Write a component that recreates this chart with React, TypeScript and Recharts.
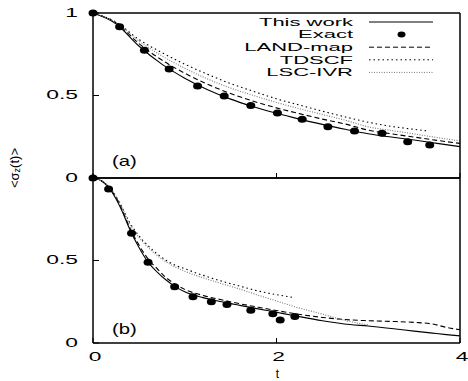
import React from 'react';
import { ComposedChart, Line, Scatter, XAxis, YAxis, Legend } from 'recharts';

// panel (a)
const topT = [0, 0.25, 0.5, 0.75, 1, 1.25, 1.5, 1.75, 2, 2.25, 2.5, 2.75, 3, 3.25, 3.5, 3.75, 4];
const topThisWork = [1, 0.935, 0.8, 0.69, 0.605, 0.535, 0.478, 0.432, 0.392, 0.357, 0.325, 0.295, 0.268, 0.248, 0.23, 0.21, 0.19];
const topLandMap = [1, 0.94, 0.815, 0.715, 0.635, 0.568, 0.512, 0.465, 0.425, 0.39, 0.357, 0.327, 0.29, 0.268, 0.248, 0.228, 0.21];
const topLscIvr = [1, 0.94, 0.83, 0.74, 0.665, 0.6, 0.545, 0.5, 0.458, 0.42, 0.385, 0.35, 0.31, 0.288, 0.267, 0.245, 0.225];
const topTdscfT = [0, 0.25, 0.5, 0.75, 1, 1.25, 1.5, 1.75, 2, 2.25, 2.5, 2.75, 3, 3.25, 3.5, 3.65];
const topTdscf = [1, 0.945, 0.84, 0.76, 0.69, 0.628, 0.572, 0.525, 0.48, 0.442, 0.405, 0.37, 0.338, 0.313, 0.295, 0.285];
const topExactT = [0, 0.29, 0.56, 0.83, 1.14, 1.43, 1.72, 2.01, 2.28, 2.56, 2.85, 3.15, 3.43, 3.67];
const topExact = [1, 0.917, 0.774, 0.66, 0.558, 0.497, 0.44, 0.394, 0.356, 0.311, 0.285, 0.271, 0.22, 0.2];

// panel (b)
const botT = [0, 0.1, 0.2, 0.3, 0.4, 0.5, 0.6, 0.7, 0.8, 0.9, 1, 1.2, 1.4, 1.6, 1.8, 2, 2.2, 2.5, 2.8, 3, 3.3, 3.5, 3.7, 3.85, 4];
const botThisWork = [1, 0.98, 0.92, 0.82, 0.69, 0.58, 0.49, 0.43, 0.38, 0.34, 0.31, 0.275, 0.25, 0.228, 0.207, 0.186, 0.165, 0.135, 0.112, 0.103, 0.085, 0.072, 0.06, 0.051, 0.043];
const botLandMap = [1, 0.98, 0.925, 0.83, 0.7, 0.595, 0.51, 0.45, 0.395, 0.355, 0.325, 0.288, 0.262, 0.238, 0.217, 0.197, 0.178, 0.155, 0.14, 0.135, 0.13, 0.125, 0.115, 0.095, 0.08];
const botTdscf = [1, 0.98, 0.93, 0.84, 0.73, 0.65, 0.59, 0.54, 0.5, 0.47, 0.45, 0.41, 0.375, 0.345, 0.315, 0.293, 0.275, null, null, null, null, null, null, null, null];
const botLscIvr = [1, 0.98, 0.93, 0.84, 0.72, 0.64, 0.58, 0.53, 0.49, 0.46, 0.435, 0.395, 0.36, 0.327, 0.29, 0.255, 0.22, 0.175, 0.13, 0.11, null, null, null, null, null];
const botExactT = [0, 0.17, 0.42, 0.6, 0.89, 1.09, 1.29, 1.46, 1.72, 1.96, 2.04, 2.2];
const botExact = [1, 0.933, 0.665, 0.489, 0.341, 0.281, 0.25, 0.234, 0.198, 0.178, 0.139, 0.16];

const xTicks = [0, 2, 4];
const yTicks = [0, 0.5, 1];
const seriesNames = ['This work', 'Exact', 'LAND-map', 'TDSCF', 'LSC-IVR'];

const FONT = '"Liberation Sans", Arial, Helvetica, sans-serif';
const lineStyle: Record<string, { stroke: string; dash?: string }> = {
  'This work': { stroke: '#000' },
  'LAND-map': { stroke: '#000', dash: '5 3' },
  TDSCF: { stroke: '#000', dash: '1.5 3' },
  'LSC-IVR': { stroke: '#777', dash: '1 1.5' },
};

const rows = (ts: number[], vs: (number | null)[]) =>
  ts.map((t, i) => ({ t, v: vs[i] })).filter((r) => r.v !== null);

const Stretch = ({ x, y, anchor, size = 12, sx = 1.9, children }: any) => (
  <text
    transform={`translate(${x},${y}) scale(${sx},1)`}
    textAnchor={anchor}
    dominantBaseline="central"
    fontFamily={FONT}
    fontSize={size}
    fill="#000"
  >
    {children}
  </text>
);

const xBottomTick = (showLabels: boolean) => (props: any) => {
  const { x, y, payload } = props;
  return (
    <g>
      <line x1={x} x2={x} y1={y} y2={y - 5} stroke="#000" />
      {showLabels && (
        <Stretch x={x + 2} y={y + 13.5} anchor="middle" size={13} sx={1.75}>
          {payload.value}
        </Stretch>
      )}
    </g>
  );
};

const xTopTick = (props: any) => {
  const { x, y } = props;
  return <line x1={x} x2={x} y1={y} y2={y + 5} stroke="#000" />;
};

const yLeftTick = (hideOne: boolean) => (props: any) => {
  const { x, y, payload } = props;
  return (
    <g>
      <line x1={x} x2={x + 6} y1={y} y2={y} stroke="#000" />
      {!(hideOne && payload.value === 1) && (
        <Stretch x={x - 15} y={y} anchor="end" size={12} sx={1.9}>
          {payload.value}
        </Stretch>
      )}
    </g>
  );
};

const yRightTick = (props: any) => {
  const { x, y } = props;
  return <line x1={x} x2={x - 6} y1={y} y2={y} stroke="#000" />;
};

const renderLegend = () => (
  <svg width={468} height={85} style={{ display: 'block' }}>
    {seriesNames.map((name, i) => {
      const y = 22 + i * 12.6;
      const st = lineStyle[name];
      return (
        <g key={name}>
          <Stretch x={353} y={y} anchor="end" size={11} sx={2.0}>
            {name}
          </Stretch>
          {st ? (
            <line x1={369} x2={433} y1={y} y2={y} stroke={st.stroke} strokeDasharray={st.dash} />
          ) : (
            <ellipse cx={401.5} cy={y} rx={4} ry={3} fill="#000" />
          )}
        </g>
      );
    })}
  </svg>
);

const ExactDot = (props: any) => {
  const { cx, cy } = props;
  return <ellipse cx={cx} cy={cy} rx={4.5} ry={3.5} fill="#000" />;
};

interface PanelProps {
  height: number;
  topH: number;
  bottomH: number;
  series: { name: string; data: { t: number; v: number | null }[] }[];
  exact: { t: number; v: number | null }[];
  bottom?: boolean;
}

const axisLine = { stroke: '#000', strokeWidth: 1.5 };

const Panel = ({ height, topH, bottomH, series, exact, bottom = false }: PanelProps) => (
  <ComposedChart width={468} height={height} margin={{ top: 0, right: 0, bottom: 0, left: 0 }}>
    <XAxis
      xAxisId="b"
      type="number"
      dataKey="t"
      domain={[0, 4]}
      ticks={xTicks}
      interval={0}
      height={bottomH}
      tickSize={0}
      tickMargin={0}
      tickLine={false}
      axisLine={axisLine}
      tick={xBottomTick(bottom)}
      label={
        bottom
          ? {
              content: ({ viewBox }: any) => (
                <text
                  x={viewBox.x + viewBox.width / 2 + 1}
                  y={viewBox.y + viewBox.height - 7}
                  textAnchor="middle"
                  dominantBaseline="central"
                  fontFamily={FONT}
                  fontSize={12}
                  fill="#000"
                >
                  t
                </text>
              ),
            }
          : undefined
      }
    />
    <XAxis
      xAxisId="t"
      orientation="top"
      type="number"
      dataKey="t"
      domain={[0, 4]}
      ticks={xTicks}
      interval={0}
      height={topH}
      tickSize={0}
      tickMargin={0}
      tickLine={false}
      axisLine={axisLine}
      tick={xTopTick}
    />
    <YAxis
      yAxisId="l"
      type="number"
      domain={[0, 1]}
      ticks={yTicks}
      interval={0}
      width={93}
      tickSize={0}
      tickMargin={0}
      tickLine={false}
      axisLine={axisLine}
      tick={yLeftTick(bottom)}
    />
    <YAxis
      yAxisId="r"
      orientation="right"
      type="number"
      domain={[0, 1]}
      ticks={yTicks}
      interval={0}
      width={8}
      tickSize={0}
      tickMargin={0}
      tickLine={false}
      axisLine={axisLine}
      tick={yRightTick}
    />
    {series.map((s) => (
      <Line
        key={s.name}
        name={s.name}
        data={s.data}
        dataKey="v"
        xAxisId="b"
        yAxisId="l"
        type="monotone"
        dot={false}
        activeDot={false}
        stroke={lineStyle[s.name].stroke}
        strokeDasharray={lineStyle[s.name].dash}
        strokeWidth={1.1}
        isAnimationActive={false}
      />
    ))}
    <Scatter
      name="Exact"
      data={exact}
      dataKey="v"
      xAxisId="b"
      yAxisId="l"
      fill="#000"
      shape={ExactDot}
      isAnimationActive={false}
    />
    {!bottom && (
      <Legend
        layout="vertical"
        align="center"
        verticalAlign="middle"
        content={renderLegend}
        wrapperStyle={{ top: 0, left: 0, width: 468, height: 85 }}
      />
    )}
  </ComposedChart>
);

export default function App() {
  const topSeries = [
    { name: 'This work', data: rows(topT, topThisWork) },
    { name: 'LAND-map', data: rows(topT, topLandMap) },
    { name: 'TDSCF', data: rows(topTdscfT, topTdscf) },
    { name: 'LSC-IVR', data: rows(topT, topLscIvr) },
  ];
  const botSeries = [
    { name: 'This work', data: rows(botT, botThisWork) },
    { name: 'LAND-map', data: rows(botT, botLandMap) },
    { name: 'TDSCF', data: rows(botT, botTdscf) },
    { name: 'LSC-IVR', data: rows(botT, botLscIvr) },
  ];

  return (
    <div style={{ position: 'absolute', left: 0, top: 0, width: 468, height: 381, background: '#fff' }}>
      <div style={{ position: 'absolute', left: 0, top: 0 }}>
        <Panel height={190} topH={13} bottomH={12} series={topSeries} exact={rows(topExactT, topExact)} />
      </div>
      <div style={{ position: 'absolute', left: 0, top: 170 }}>
        <Panel height={211} topH={8} bottomH={38} series={botSeries} exact={rows(botExactT, botExact)} bottom />
      </div>
      <svg width={468} height={381} style={{ position: 'absolute', left: 0, top: 0, pointerEvents: 'none' }}>
        <text
          transform="translate(14,168) rotate(-90)"
          textAnchor="middle"
          dominantBaseline="central"
          fontFamily={FONT}
          fontSize={13}
          fill="#000"
        >
          {'<σ'}
          <tspan fontSize={9} dy={3}>z</tspan>
          <tspan dy={-3}>{'(t)>'}</tspan>
        </text>
        <Stretch x={112} y={161} anchor="start" size={14} sx={1.45}>(a)</Stretch>
        <Stretch x={112} y={329} anchor="start" size={14} sx={1.45}>(b)</Stretch>
      </svg>
    </div>
  );
}
